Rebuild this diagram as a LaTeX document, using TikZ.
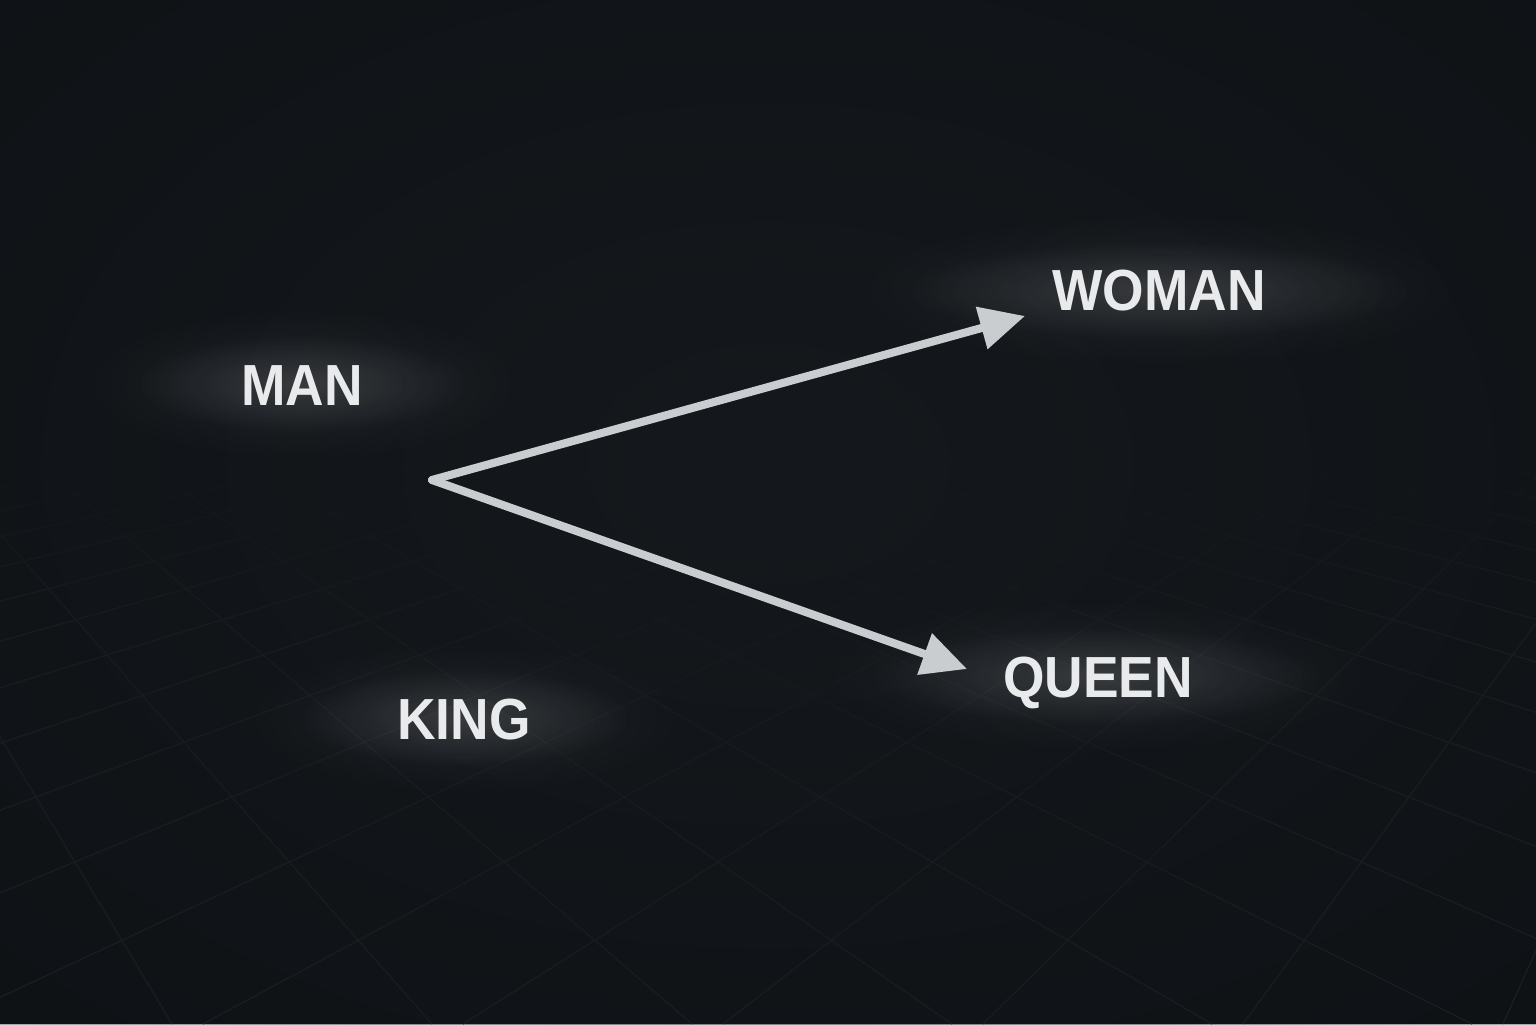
\documentclass[tikz,border=0pt]{standalone}
\usepackage{fontspec}
\newfontfamily\wordfont[FakeStretch=0.92]{Liberation Sans}
\usetikzlibrary{arrows.meta, fadings}

\definecolor{bgedge}{HTML}{0B0E11}
\definecolor{bglift}{HTML}{15191D}
\definecolor{gridgrey}{HTML}{1E2227}
\definecolor{arrowgrey}{HTML}{C9CDD0}
\definecolor{wordgrey}{HTML}{E8EAEC}

\tikzfading[name=glowfade, inner color=transparent!0, outer color=transparent!100]
\tikzfading[name=gridfade, top color=transparent!0, bottom color=transparent!100]

\tikzset{
  word/.style={text=wordgrey, anchor=base, inner sep=0pt,
    font=\wordfont\bfseries\fontsize{16.5}{18}\selectfont},
  gridline/.style={draw=gridgrey, line width=0.35pt},
  vecarrow/.style={draw=arrowgrey, line width=2.3pt, line cap=round,
    -{Triangle[length=4.5mm,width=4.2mm]}},
  halo/.style={white, path fading=glowfade},
}

\begin{document}
\begin{tikzpicture}
\useasboundingbox (0,0) rectangle (15.36,10.24);
% Dark background
\fill[bgedge] (0,0) rectangle (15.36,10.24);
% Floor grid: two families of lines meeting at vanishing points
\coordinate (vpleft) at (-3.82,9.24);
\coordinate (vpright) at (19.18,9.24);
\begin{scope}
  \clip (0,0) rectangle (15.36,5.9);
  \foreach \k in {-2,...,20}
    \draw[gridline] (vpleft) -- ({1.72+2.6*\k},0);
  \foreach \k in {-20,...,6}
    \draw[gridline] (vpright) -- ({2.03+2.6*\k},0);
\end{scope}
% Fade the grid out towards the horizon
\fill[bgedge, path fading=gridfade] (0,4.0) rectangle (15.36,5.9);
% Soft light in the middle of the picture
\fill[bglift, path fading=glowfade] (7.68,5.6) ellipse (18 and 12);
% Where the words sit (baselines)
\coordinate (manpos) at (3.02,6.19);
\coordinate (womanpos) at (11.59,7.13);
\coordinate (queenpos) at (10.98,3.27);
\coordinate (kingpos) at (4.64,2.85);
% Glows behind the words
\foreach \p/\r in {manpos/0.75, womanpos/1.2, queenpos/1.05, kingpos/0.75} {
  \fill[halo, opacity=0.06] ([yshift=2.1mm]\p) ellipse ({2*\r+0.8} and 0.8);
  \fill[halo, opacity=0.11] ([yshift=2.1mm]\p) ellipse ({2*\r+0.2} and 0.5);
}
% The two vectors
\coordinate (origin) at (4.32,5.44);
\coordinate (womantip) at (10.25,7.08);
\coordinate (queentip) at (9.67,3.55);
\draw[vecarrow] (origin) -- (womantip);
\draw[vecarrow] (origin) -- (queentip);
% Words
\node[word] (man) at (manpos) {MAN};
\node[word] (woman) at (womanpos) {WOMAN};
\node[word] (queen) at (queenpos) {QUEEN};
\node[word] (king) at (kingpos) {KING};
\end{tikzpicture}
\end{document}
